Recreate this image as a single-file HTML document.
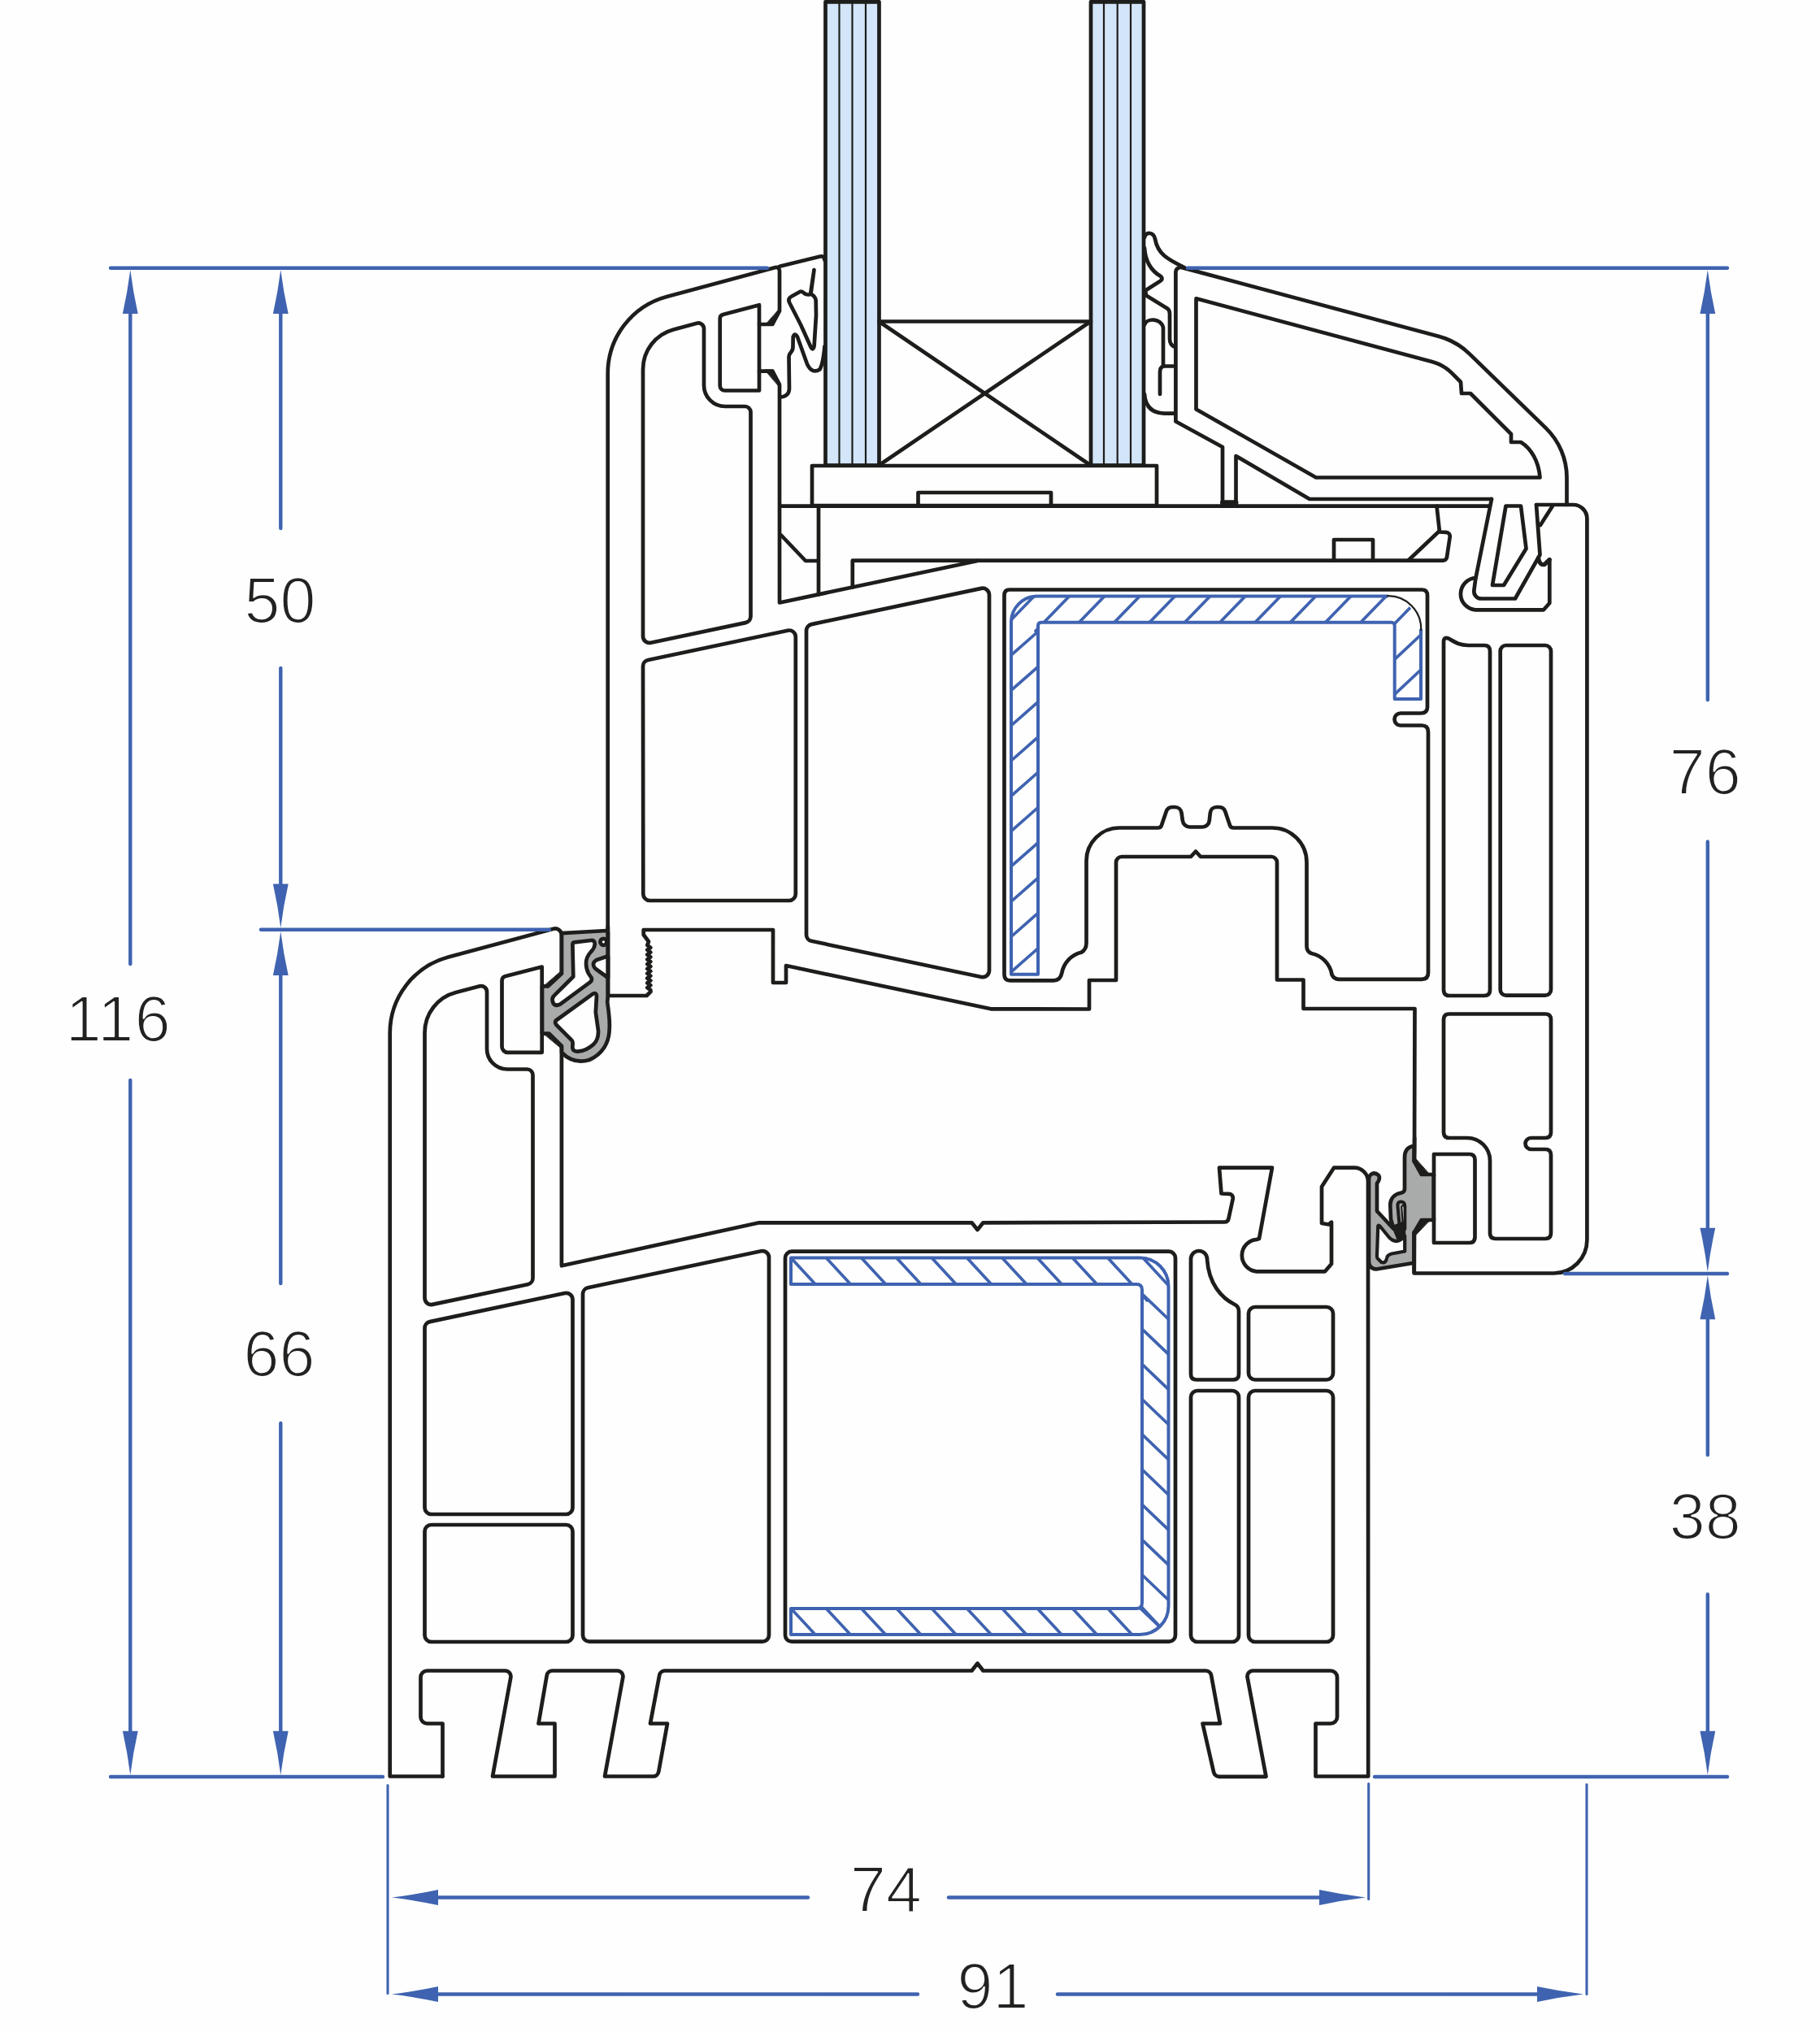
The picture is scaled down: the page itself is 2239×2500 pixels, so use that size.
<!DOCTYPE html>
<html><head><meta charset="utf-8"><title>Profile section</title>
<style>
html,body{margin:0;padding:0;background:#fff;}
body{width:2239px;height:2500px;overflow:hidden;}
svg{display:block;}
text{font-family:"Liberation Sans",sans-serif;fill:#222221;}
</style></head><body>
<svg width="2239" height="2500" viewBox="0 0 2239 2500" stroke-linejoin="round" stroke-linecap="round">
<rect x="0" y="0" width="2239" height="2500" fill="#fefefe"/>
<rect x="1015.5" y="2.3" width="66" height="570.2" fill="#d3e5f8" stroke="#1d1d1b" stroke-width="4.7"/>
<path d="M1032.5 2L1032.5 572" fill="none" stroke="#1d1d1b" stroke-width="2.2" />
<path d="M1048.5 2L1048.5 572" fill="none" stroke="#1d1d1b" stroke-width="2.2" />
<path d="M1065 2L1065 572" fill="none" stroke="#1d1d1b" stroke-width="2.2" />
<rect x="1342" y="2.3" width="65" height="570.2" fill="#d3e5f8" stroke="#1d1d1b" stroke-width="4.7"/>
<path d="M1358 2L1358 572" fill="none" stroke="#1d1d1b" stroke-width="2.2" />
<path d="M1374.7 2L1374.7 572" fill="none" stroke="#1d1d1b" stroke-width="2.2" />
<path d="M1391 2L1391 572" fill="none" stroke="#1d1d1b" stroke-width="2.2" />
<path d="M1081.5 395.5L1342 395.5" fill="none" stroke="#1d1d1b" stroke-width="4.7" />
<path d="M1082 396L1341 572" fill="none" stroke="#1d1d1b" stroke-width="4.7" />
<path d="M1341 396L1082 572" fill="none" stroke="#1d1d1b" stroke-width="4.7" />
<path d="M999 573L1423 573L1423 622L999 622Z" fill="none" stroke="#1d1d1b" stroke-width="4.7" />
<path d="M1129.5 622L1129.5 606L1293 606L1293 622" fill="none" stroke="#1d1d1b" stroke-width="4.7" />
<path d="M747.7 1225L747.7 459.6C747.7 415.2 777.5 376.4 820.3 364.9L954 329.1C956.5 328.4 959 330.3 959 333L959 382.7L950.2 399L934 399" fill="none" stroke="#1d1d1b" stroke-width="4.7" />
<path d="M959 380L959.5 384L951.5 400.5L941 400.5Z" fill="#1d1d1b" stroke="#1d1d1b" stroke-width="1" />
<path d="M934 375.2L889.4 387.1C887.2 387.7 885.7 389.7 885.7 391.9L885.7 474.5C885.7 477.8 888.4 480.5 891.7 480.5L934 480.5Z" fill="none" stroke="#1d1d1b" stroke-width="4.7" />
<path d="M934 456.6L950.2 456.6L959 473L959 741.5L1202.5 690" fill="none" stroke="#1d1d1b" stroke-width="4.7" />
<path d="M959 476L959.5 471L951.5 455L941 455Z" fill="#1d1d1b" stroke="#1d1d1b" stroke-width="1" />
<path d="M961 622.7L1832 622.7" fill="none" stroke="#1d1d1b" stroke-width="4.7" />
<path d="M1007 622.5L1007 731.3" fill="none" stroke="#1d1d1b" stroke-width="4.7" />
<path d="M961 658.5L991 690L1006 690" fill="none" stroke="#1d1d1b" stroke-width="4.7" />
<path d="M1048.8 722.5L1048.8 689.7L1775.1 689.7C1777.6 689.7 1779.7 687.9 1780 685.4L1783.7 660.5C1784.1 657.6 1781.9 654.9 1778.9 654.8L1771 654.5L1767.5 622.5" fill="none" stroke="#1d1d1b" stroke-width="4.7" />
<path d="M1732.5 689.5L1770 654" fill="none" stroke="#1d1d1b" stroke-width="4.7" />
<path d="M1641 689.7L1641 664L1689 664L1689 689.7" fill="none" stroke="#1d1d1b" stroke-width="4.7" />
<path d="M791 454.3C791 431.4 806.4 411.3 828.5 405.4L857.2 397.7C861.6 396.5 866 399.9 866 404.5L866 474C866 488.4 877.6 500 892 500L916.5 500C920.4 500 923.5 503.1 923.5 507L923.5 758.2C923.5 762 920.9 765.3 917.2 766.1L800.7 790.7C795.7 791.8 791 788 791 782.9Z" fill="none" stroke="#1d1d1b" stroke-width="4.7" />
<path d="M791 819.8C791 816 793.6 812.8 797.4 812L969.1 775.7C974.1 774.6 978.8 778.4 978.8 783.5L978.8 1100C978.8 1104.4 975.2 1108 970.8 1108L799.3 1108C794.9 1108 791.3 1104.4 791.3 1100Z" fill="none" stroke="#1d1d1b" stroke-width="4.7" />
<path d="M992 776C992 772.2 994.6 768.9 998.3 768.1L1207.3 723.9C1212.3 722.9 1217 726.7 1217 731.8L1217 1194.1C1217 1199.2 1212.3 1203 1207.3 1202L998.3 1157.8C994.6 1157 992 1153.7 992 1149.9Z" fill="none" stroke="#1d1d1b" stroke-width="4.7" />
<path d="M747.7 1225L795.5 1225L800.5 1220L800.3 1218L796.3 1215.1L800.3 1212.2L796.3 1209.3L800.3 1206.4L796.3 1203.5L800.3 1200.6L796.3 1197.7L800.3 1194.8L796.3 1191.9L800.3 1189L796.3 1186.1L800.3 1183.2L796.3 1180.3L800.3 1177.4L796.3 1174.5L800.3 1171.6L796.3 1168.7L800.3 1165.8L796.3 1162.9L798 1158.5L791.7 1150L791.7 1144L951 1144L951 1209L967 1209L967 1188L1219 1241.3L1340 1241.5L1340 1206L1373 1206L1373 1061C1373 1057.1 1376.1 1054 1380 1054L1465 1054L1471 1047.5L1477 1054L1564 1054C1567.9 1054 1571 1057.1 1571 1061L1571 1205.5L1603.5 1205.5L1603.5 1241L1740.5 1241L1740 1427L1750 1444.5L1764 1446" fill="none" stroke="#1d1d1b" stroke-width="4.7" />
<path d="M1740 1424L1740.5 1430L1751 1446.5L1760 1446.5Z" fill="#1d1d1b" stroke="#1d1d1b" stroke-width="1" />
<path d="M1764 1500L1750 1502L1740 1517.5L1739.8 1566.5L1911.4 1566.5C1934 1566.5 1952.4 1548.1 1952.4 1525.5L1952.4 638C1952.4 628.6 1944.8 621 1935.4 621L1890 621" fill="none" stroke="#1d1d1b" stroke-width="4.7" />
<path d="M1740 1521L1740.5 1515L1751 1500L1760 1500Z" fill="#1d1d1b" stroke="#1d1d1b" stroke-width="1" />
<path d="M1910 622.5L1895 646" fill="none" stroke="#1d1d1b" stroke-width="4.7" />
<path d="M1242 725.5L1749 725.5Q1756 725.5 1756 732.5L1756 870Q1756 877.5 1748 877.5L1723 877.5A7.5 7.5 0 0 0 1723 892.5L1749 892.5Q1757 892.5 1757 900.5L1757 1197Q1757 1204.8 1749 1204.8L1647 1204.8Q1641 1204.8 1638.5 1199A32 32 0 0 0 1613.5 1173Q1607.5 1171 1607.5 1164L1607.5 1061A42.5 42.5 0 0 0 1565 1018.5L1565 1018.5L1517.6 1018.5C1515.5 1018.5 1513.5 1017.1 1512.9 1015.1L1507.3 998.5C1506.2 995.2 1503.2 993 1499.7 993L1496.7 993C1492.6 993 1489.2 996.1 1488.8 1000.2L1487.8 1009.4C1487.4 1014 1483.5 1017.5 1478.9 1017.5L1463.8 1017.5C1459.3 1017.5 1455.5 1014.2 1454.9 1009.8L1453.5 999.9C1452.9 995.9 1449.5 993 1445.6 993L1442.3 993C1438.8 993 1435.8 995.2 1434.7 998.5L1429.1 1015.1C1428.5 1017.1 1426.5 1018.5 1424.4 1018.5L1377 1018.5A40.5 40.5 0 0 0 1336.5 1059L1336.5 1160Q1336.5 1168.5 1330 1171.8A32 32 0 0 0 1306.3 1197Q1304.5 1206.3 1296 1206.3L1242.5 1206.3Q1235.5 1206.3 1235.5 1199L1235.5 732.5Q1235.5 725.5 1242 725.5Z" fill="none" stroke="#1d1d1b" stroke-width="4.7" />
<path d="M1815.5 711A19.7 19.7 0 0 0 1815 750.3L1899 750.3L1906.3 742L1906.3 688.5" fill="none" stroke="#1d1d1b" stroke-width="4.7" />
<path d="M1892.5 686.5Q1894 696 1900 694.5L1906.3 688.5" fill="none" stroke="#1d1d1b" stroke-width="5.2" />
<path d="M1776 1218Q1776 1225 1783 1225L1826 1225Q1833 1225 1833 1218L1833 801Q1833 794 1826 794L1806 794C1795 794 1790 790 1782 785.5Q1776 783 1776 790Z" fill="none" stroke="#1d1d1b" stroke-width="4.7" />
<path d="M1845.7 801C1845.7 797.1 1848.8 794 1852.7 794L1901 794C1904.9 794 1908 797.1 1908 801L1908 1217.7C1908 1221.6 1904.9 1224.7 1901 1224.7L1852.7 1224.7C1848.8 1224.7 1845.7 1221.6 1845.7 1217.7Z" fill="none" stroke="#1d1d1b" stroke-width="4.7" />
<path d="M1783 1247.5L1901 1247.5Q1908 1247.5 1908 1254.5L1908 1393Q1908 1400 1901 1400L1883.5 1400A7 7 0 0 0 1883.5 1414L1901 1414Q1908 1414 1908 1421L1908 1517Q1908 1524 1901 1524L1840 1524Q1833 1524 1833 1517L1833 1428A28 28 0 0 0 1805 1400L1783 1400Q1776 1400 1776 1393L1776 1254.5Q1776 1247.5 1783 1247.5Z" fill="none" stroke="#1d1d1b" stroke-width="4.7" />
<path d="M1764 1420L1807.5 1420Q1814.5 1420 1814.5 1427L1814.5 1522Q1814.5 1529 1807.5 1529L1764 1529Z" fill="none" stroke="#1d1d1b" stroke-width="4.7" />
<path d="M1504 620.5L1504 550L1446.4 518.5L1446.4 334.9C1446.4 331 1450.1 328.1 1454 329.1L1769.7 413.7C1784.1 417.6 1797.2 425 1807.8 435.4L1901.7 526.6C1918.2 542.6 1927.5 564.6 1927.5 587.5L1927.5 621" fill="none" stroke="#1d1d1b" stroke-width="4.7" />
<path d="M1520.5 620.5L1520.5 561L1611 614L1835 614" fill="none" stroke="#1d1d1b" stroke-width="4.7" />
<path d="M1504 618.3L1520.5 618.3" fill="none" stroke="#1d1d1b" stroke-width="6" />
<path d="M1471.5 367.3L1761.6 445C1770.9 447.5 1779.4 452.4 1786.2 459.2L1797 470L1798 484L1809 484L1859 534L1859 544L1871 544C1884 552 1893 568 1894.5 587.5L1619 587.5L1471.5 503.5Z" fill="none" stroke="#1d1d1b" stroke-width="4.7" />
<path d="M1835 614L1815.3 712L1813.4 726.3C1812.6 731.7 1816.8 736.5 1822.3 736.5L1864 736.5L1894.5 682.5L1890 621" fill="none" stroke="#1d1d1b" stroke-width="4.7" />
<path d="M1852.5 622.5L1871 622.5L1877.5 675L1850 720L1836 720Z" fill="none" stroke="#1d1d1b" stroke-width="4.7" />
<path d="M1408 292C1410 285 1419 285 1421 294C1424 312 1436 319 1457 329" fill="none" stroke="#1d1d1b" stroke-width="4.7" />
<path d="M1408 305C1409 322 1416 333 1428 340Q1431.5 343.5 1427 346L1409 357.5L1410 363.5L1436 379.5Q1439 381.5 1439 386L1439 417Q1439 425 1446 427" fill="none" stroke="#1d1d1b" stroke-width="4.7" />
<path d="M1408 399.5C1411 391 1428 391 1431 403L1431 450.5L1446 450.5" fill="none" stroke="#1d1d1b" stroke-width="4.7" />
<path d="M1431 450.5Q1427 452 1427 458L1427 485" fill="none" stroke="#1d1d1b" stroke-width="4.7" stroke-linecap="round"/>
<path d="M1408 485C1409 499 1416 508 1432 508.7L1446 508.7" fill="none" stroke="#1d1d1b" stroke-width="4.7" />
<path d="M959 327.7L1009 315.5Q1014 314.5 1014.5 320" fill="none" stroke="#1d1d1b" stroke-width="4.7" />
<path d="M971 372Q969 367 974 364.5L984 359Q986.5 358 989 360.5Q992 363.5 997 362L1001.5 332L997.5 361.5Q1003.5 365 1003.7 370L1004 388L1001.6 426Q1000 432 997.5 427L985.3 400Z" fill="none" stroke="#1d1d1b" stroke-width="4.7" />
<path d="M959.5 488.5Q970.5 488 971 478.5L970.5 439Q970.5 436 973 433.5Q975.8 430.5 975.5 426L975.7 414.5Q977.5 408.5 981 414.5L993 448Q999 460.5 1008.5 454.5Q1012.5 448 1014.5 426" fill="none" stroke="#1d1d1b" stroke-width="4.7" />
<path d="M544.5 2185.5L479.7 2185.5L479.7 1271.1C479.7 1227.2 509.2 1188.8 551.5 1177.4L680.8 1142.7C685.9 1141.3 690.9 1145.2 690.9 1150.4L690.9 1197.7L674 1213.5L667 1213.5" fill="none" stroke="#1d1d1b" stroke-width="4.7" />
<path d="M690.9 1194.5L691.5 1199L675.5 1215.5L666.5 1215.5Z" fill="#1d1d1b" stroke="#1d1d1b" stroke-width="1" />
<path d="M666.7 1189.5L622 1201.1C619.3 1201.8 617.5 1204.2 617.5 1206.9L617.5 1287.8C617.5 1291.7 620.6 1294.8 624.5 1294.8L666.7 1294.8Z" fill="none" stroke="#1d1d1b" stroke-width="4.7" />
<path d="M667 1271.6L675.5 1271.6L690.9 1287L690.9 1557.3L934 1504.3L1195.5 1504.3L1202.5 1513L1209.5 1504.3L1506.5 1503.5C1508.8 1503.5 1510.9 1501.9 1511.4 1499.6L1516.7 1474.9C1517.4 1471.8 1515.1 1468.9 1512 1468.8L1502.5 1468.5L1500 1436.7L1565 1436.7L1549 1524L1546.5 1524.8A19.8 19.8 0 0 0 1546 1564.3L1546 1564.3L1630 1564.3L1638 1555L1638 1503.5L1634.5 1506.5L1626 1505L1626 1460L1641 1436.7L1666 1436.7C1675.4 1436.7 1683 1444.3 1683 1453.7L1683.2 2185.5L1618.5 2185.5L1618.5 2120.5L1637 2120.5C1641.4 2120.5 1645 2116.9 1645 2112.5L1645 2063.5C1645 2059.1 1641.4 2055.5 1637 2055.5L1541.4 2055.5C1537.1 2055.5 1533.7 2059.5 1534.6 2063.8L1557.5 2185.8L1499.9 2185.8C1496.6 2185.8 1493.8 2183.5 1493.1 2180.3L1479.5 2120.5L1501 2120.5L1490.1 2061.2C1489.4 2057.9 1486.5 2055.5 1483.2 2055.5L1209.5 2055.5L1202.5 2046.5L1195.5 2055.5L818.1 2055.5C814.7 2055.5 811.8 2057.9 811.2 2061.2L800 2120.5L821 2120.5L810.3 2179.7C809.7 2183.1 806.8 2185.5 803.4 2185.5L744 2185.5L766.3 2063.8C767.1 2059.5 763.8 2055.5 759.4 2055.5L679.6 2055.5C676.2 2055.5 673.3 2058 672.7 2061.3L662.5 2120.5L682.5 2120.5L682.5 2185.5L606 2185.5L628.3 2063.8C629.1 2059.5 625.8 2055.5 621.4 2055.5L525.5 2055.5C521.1 2055.5 517.5 2059.1 517.5 2063.5L517.5 2112.5C517.5 2116.9 521.1 2120.5 525.5 2120.5L544.5 2120.5L544.5 2185.5" fill="none" stroke="#1d1d1b" stroke-width="4.7" />
<path d="M690.9 1290L691.5 1285L677 1269.7L666.5 1269.7Z" fill="#1d1d1b" stroke="#1d1d1b" stroke-width="1" />
<path d="M522.5 1270.5C522.5 1247.2 538.2 1226.9 560.8 1221L590.2 1213.3C594.7 1212.1 599 1215.5 599 1220.1L599 1290.5C599 1304.3 610.2 1315.5 624 1315.5L648.5 1315.5C652.4 1315.5 655.5 1318.6 655.5 1322.5L655.5 1572.4C655.5 1576.1 652.9 1579.4 649.2 1580.2L532.2 1604.9C527.2 1606 522.5 1602.2 522.5 1597.1Z" fill="none" stroke="#1d1d1b" stroke-width="4.7" />
<path d="M522.5 1633.9C522.5 1630.1 525.1 1626.9 528.8 1626.1L694.8 1591C699.8 1589.9 704.5 1593.7 704.5 1598.8L704.5 1855C704.5 1859.4 700.9 1863 696.5 1863L530.5 1863C526.1 1863 522.5 1859.4 522.5 1855Z" fill="none" stroke="#1d1d1b" stroke-width="4.7" />
<path d="M522.5 1884C522.5 1879.6 526.1 1876 530.5 1876L696.5 1876C700.9 1876 704.5 1879.6 704.5 1884L704.5 2012C704.5 2016.4 700.9 2020 696.5 2020L530.5 2020C526.1 2020 522.5 2016.4 522.5 2012Z" fill="none" stroke="#1d1d1b" stroke-width="4.7" />
<path d="M717 1592.1C717 1588.4 719.6 1585.1 723.3 1584.3L936.3 1539.3C941.3 1538.2 946 1542 946 1547.1L946 2011.7C946 2016.1 942.4 2019.7 938 2019.7L725 2019.7C720.6 2019.7 717 2016.1 717 2011.7Z" fill="none" stroke="#1d1d1b" stroke-width="4.7" />
<path d="M966 1547.7C966 1543.3 969.6 1539.7 974 1539.7L1438 1539.7C1442.4 1539.7 1446 1543.3 1446 1547.7L1446 2011.7C1446 2016.1 1442.4 2019.7 1438 2019.7L974 2019.7C969.6 2019.7 966 2016.1 966 2011.7Z" fill="none" stroke="#1d1d1b" stroke-width="4.7" />
<path d="M1465 1690.5L1465 1549A10 10 0 0 1 1485 1549C1487 1580 1503 1597 1519 1605Q1524 1607.5 1524 1613L1524 1690.5Q1524 1697.5 1517 1697.5L1472 1697.5Q1465 1697.5 1465 1690.5Z" fill="none" stroke="#1d1d1b" stroke-width="4.7" />
<path d="M1536 1616C1536 1611.6 1539.6 1608 1544 1608L1632 1608C1636.4 1608 1640 1611.6 1640 1616L1640 1689.5C1640 1693.9 1636.4 1697.5 1632 1697.5L1544 1697.5C1539.6 1697.5 1536 1693.9 1536 1689.5Z" fill="none" stroke="#1d1d1b" stroke-width="4.7" />
<path d="M1465 1719C1465 1714.6 1468.6 1711 1473 1711L1516 1711C1520.4 1711 1524 1714.6 1524 1719L1524 2012C1524 2016.4 1520.4 2020 1516 2020L1473 2020C1468.6 2020 1465 2016.4 1465 2012Z" fill="none" stroke="#1d1d1b" stroke-width="4.7" />
<path d="M1536 1719C1536 1714.6 1539.6 1711 1544 1711L1632 1711C1636.4 1711 1640 1714.6 1640 1719L1640 2012C1640 2016.4 1636.4 2020 1632 2020L1544 2020C1539.6 2020 1536 2016.4 1536 2012Z" fill="none" stroke="#1d1d1b" stroke-width="4.7" />
<defs>
<clipPath id="cs"><path d="M1244 1198.7L1244 765.5A32 32 0 0 1 1276 733.5L1708 733.5A40 40 0 0 1 1748 773.5L1748 860L1715.7 860L1715.7 769.7Q1715.7 765.7 1711.7 765.7L1281 765.7Q1277 765.7 1277 769.7L1277 1198.7Z"/></clipPath>
<clipPath id="cf"><path d="M973 1547.5L1402.5 1547.5A35 35 0 0 1 1437.5 1582.5L1437.5 1976A35 35 0 0 1 1402.5 2011L973 2011L973 1979L1398 1979Q1405 1979 1405 1972L1405 1587Q1405 1580 1398 1580L973 1580Z"/></clipPath>
</defs>
<g clip-path="url(#cs)" stroke="#3f63b0" stroke-width="3.7" fill="none">
<path d="M1230.7 776.3L1281.7 723.7"/>
<path d="M1274 776.3L1325 723.7"/>
<path d="M1317.3 776.3L1368.3 723.7"/>
<path d="M1360.6 776.3L1411.6 723.7"/>
<path d="M1403.9 776.3L1454.9 723.7"/>
<path d="M1447.2 776.3L1498.2 723.7"/>
<path d="M1490.5 776.3L1541.5 723.7"/>
<path d="M1533.8 776.3L1584.8 723.7"/>
<path d="M1577.1 776.3L1628.1 723.7"/>
<path d="M1620.4 776.3L1671.4 723.7"/>
<path d="M1663.7 776.3L1714.7 723.7"/>
<path d="M1707 776.3L1758 723.7"/>
<path d="M1234 814.8L1287 768.2"/>
<path d="M1234 858.1L1287 811.5"/>
<path d="M1234 901.4L1287 854.8"/>
<path d="M1234 944.7L1287 898.1"/>
<path d="M1234 988L1287 941.4"/>
<path d="M1234 1031.3L1287 984.7"/>
<path d="M1234 1074.6L1287 1028"/>
<path d="M1234 1117.9L1287 1071.3"/>
<path d="M1234 1161.2L1287 1114.6"/>
<path d="M1234 1204.5L1287 1157.9"/>
<path d="M1234 1247.8L1287 1201.2"/>
<path d="M1706 820.4L1759 770.6"/>
<path d="M1706 863.4L1759 813.6"/>
</g>
<path d="M1244 1198.7L1244 765.5A32 32 0 0 1 1276 733.5L1708 733.5A40 40 0 0 1 1748 773.5L1748 860L1715.7 860L1715.7 769.7Q1715.7 765.7 1711.7 765.7L1281 765.7Q1277 765.7 1277 769.7L1277 1198.7Z" fill="none" stroke="#3f63b0" stroke-width="4" />
<path d="M1709.5 733.5A40 40 0 0 1 1748 772" fill="none" stroke="#fefefe" stroke-width="5" />
<path d="M1707 733.2A40.5 40.5 0 0 1 1748.2 775" fill="none" stroke="#1d1d1b" stroke-width="2.2" />
<g clip-path="url(#cf)" stroke="#3f63b0" stroke-width="3.7" fill="none">
<path d="M963.8 1537.5L1021.5 1600"/>
<path d="M963.8 1969L1021.5 2031"/>
<path d="M1007.1 1537.5L1064.8 1600"/>
<path d="M1007.1 1969L1064.8 2031"/>
<path d="M1050.4 1537.5L1108.1 1600"/>
<path d="M1050.4 1969L1108.1 2031"/>
<path d="M1093.7 1537.5L1151.4 1600"/>
<path d="M1093.7 1969L1151.4 2031"/>
<path d="M1137 1537.5L1194.7 1600"/>
<path d="M1137 1969L1194.7 2031"/>
<path d="M1180.3 1537.5L1238 1600"/>
<path d="M1180.3 1969L1238 2031"/>
<path d="M1223.6 1537.5L1281.3 1600"/>
<path d="M1223.6 1969L1281.3 2031"/>
<path d="M1266.9 1537.5L1324.6 1600"/>
<path d="M1266.9 1969L1324.6 2031"/>
<path d="M1310.2 1537.5L1367.9 1600"/>
<path d="M1310.2 1969L1367.9 2031"/>
<path d="M1353.5 1537.5L1411.2 1600"/>
<path d="M1353.5 1969L1411.2 2031"/>
<path d="M1396.8 1537.5L1454.5 1600"/>
<path d="M1396.8 1969L1454.5 2031"/>
<path d="M1395 1582.4L1448 1633"/>
<path d="M1395 1625.6L1448 1676.2"/>
<path d="M1395 1668.8L1448 1719.4"/>
<path d="M1395 1712L1448 1762.6"/>
<path d="M1395 1755.2L1448 1805.8"/>
<path d="M1395 1798.4L1448 1849"/>
<path d="M1395 1841.6L1448 1892.2"/>
<path d="M1395 1884.8L1448 1935.4"/>
<path d="M1395 1928L1448 1978.6"/>
<path d="M1395 1971.2L1448 2021.8"/>
</g>
<path d="M973 1547.5L1402.5 1547.5A35 35 0 0 1 1437.5 1582.5L1437.5 1976A35 35 0 0 1 1402.5 2011L973 2011L973 1979L1398 1979Q1405 1979 1405 1972L1405 1587Q1405 1580 1398 1580L973 1580Z" fill="none" stroke="#3f63b0" stroke-width="4" />
<path d="M691 1148.2L746 1145L747.9 1147L747.9 1224L747.2 1233C749 1245 750.5 1256 749.7 1266C749.5 1283 741 1297 725 1304C712 1308 700 1304 691 1295L691 1287L675.5 1271.6L667 1271.6L667 1213.5L674 1213.5L691 1197.7Z" fill="#a9abaa" stroke="#1d1d1b" stroke-width="4.7" />
<path d="M706.5 1159.3L726.6 1157Q732 1156.5 731.8 1161.5Q731.5 1166.5 727 1171Q721 1177.5 721 1185Q721 1192 724 1197.7L727.8 1203.3Q728.5 1206.5 726 1208.3L689 1235.7Q683 1238.5 680.5 1234L679.6 1231Q679 1227.5 681.5 1225.2L705.3 1201.5L704.4 1162Q704.4 1159.5 706.5 1159.3Z" fill="#fefefe" stroke="#1d1d1b" stroke-width="4.7" />
<path d="M684 1255.5L729.5 1222.6Q733.5 1221 734 1225L732.8 1245.3L736 1268Q736.5 1279 730 1285Q722 1292.5 711 1293.7Q705.5 1294 704.3 1289.5L704.6 1283Q704.6 1281 703 1279.5L684.5 1261Q682 1258 684 1255.5Z" fill="#fefefe" stroke="#1d1d1b" stroke-width="4.7" />
<circle cx="742.4" cy="1158.8" r="4" fill="#fefefe" stroke="#1d1d1b" stroke-width="4.7"/>
<path d="M748 1176.3L734 1181Q729.5 1183.5 730 1187Q730.5 1190.5 733.5 1192.5L748 1203Z" fill="#fefefe" stroke="#1d1d1b" stroke-width="4.7" />
<path d="M747.9 1140L747.9 1225" fill="none" stroke="#1d1d1b" stroke-width="4.7" />
<path d="M1739.8 1410C1734 1410 1728 1414 1728 1424L1728 1463Q1728 1466.5 1724 1467.5C1716 1469 1710.5 1474 1710.3 1482L1711 1500L1714.5 1512L1694 1490L1694 1456Q1698.5 1450 1696 1446Q1691 1441.5 1686.5 1445Q1684 1447 1684 1451L1684 1552Q1684 1560.5 1693 1561.5L1739.6 1553.7L1739.6 1516.4L1748.8 1501L1763.6 1501L1763.6 1445L1748.8 1445L1739.6 1428.5Z" fill="#a9abaa" stroke="#1d1d1b" stroke-width="4.7" />
<path d="M1719.5 1484Q1719 1478 1724 1478.5Q1728.3 1479 1728.3 1484L1728.3 1512L1722 1512Z" fill="#a9abaa" stroke="#1d1d1b" stroke-width="4" />
<path d="M1724.3 1485Q1726 1480.5 1727.6 1485L1727.8 1508L1725.8 1508Z" fill="#fefefe" stroke="#1d1d1b" stroke-width="2.2" />
<path d="M1713 1509L1728 1503L1728.3 1521L1719 1524Z" fill="#1d1d1b" stroke="#1d1d1b" stroke-width="2" />
<path d="M1695.2 1509.5Q1695.2 1506 1698 1509L1709 1522.5Q1716.5 1530 1723.5 1525L1728.2 1520.5L1728.2 1539.5L1712 1542.5Q1706.5 1544 1706 1548Q1705 1554.5 1699.5 1553L1694.5 1548Q1694 1547 1694 1545Z" fill="#fefefe" stroke="#1d1d1b" stroke-width="4.2" />
<path d="M1740.2 1400L1739.8 1429" fill="none" stroke="#1d1d1b" stroke-width="4.7" />
<path d="M1739.6 1516L1739.6 1566" fill="none" stroke="#1d1d1b" stroke-width="4.7" />
<path d="M136 329.7L944 329.7" stroke="#3f63b0" stroke-width="4.4" stroke-linecap="round" fill="none"/>
<path d="M1461 329.7L2125 329.7" stroke="#3f63b0" stroke-width="4.4" stroke-linecap="round" fill="none"/>
<path d="M321 1143.8L676 1143.8" stroke="#3f63b0" stroke-width="4.4" stroke-linecap="round" fill="none"/>
<path d="M1925 1567L2125 1567" stroke="#3f63b0" stroke-width="4.4" stroke-linecap="round" fill="none"/>
<path d="M136 2186L471 2186" stroke="#3f63b0" stroke-width="4.4" stroke-linecap="round" fill="none"/>
<path d="M1691 2186L2125 2186" stroke="#3f63b0" stroke-width="4.4" stroke-linecap="round" fill="none"/>
<path d="M160.3 380L160.3 1186" stroke="#3f63b0" stroke-width="4.4" stroke-linecap="round" fill="none"/>
<path d="M160.3 1329L160.3 2135" stroke="#3f63b0" stroke-width="4.4" stroke-linecap="round" fill="none"/>
<path d="M345.3 380L345.3 650" stroke="#3f63b0" stroke-width="4.4" stroke-linecap="round" fill="none"/>
<path d="M345.3 822L345.3 1092" stroke="#3f63b0" stroke-width="4.4" stroke-linecap="round" fill="none"/>
<path d="M345.3 1195L345.3 1579" stroke="#3f63b0" stroke-width="4.4" stroke-linecap="round" fill="none"/>
<path d="M345.3 1751L345.3 2135" stroke="#3f63b0" stroke-width="4.4" stroke-linecap="round" fill="none"/>
<path d="M2100.8 380L2100.8 861" stroke="#3f63b0" stroke-width="4.4" stroke-linecap="round" fill="none"/>
<path d="M2100.8 1035.5L2100.8 1515" stroke="#3f63b0" stroke-width="4.4" stroke-linecap="round" fill="none"/>
<path d="M2100.8 1618L2100.8 1790" stroke="#3f63b0" stroke-width="4.4" stroke-linecap="round" fill="none"/>
<path d="M2100.8 1961.5L2100.8 2135" stroke="#3f63b0" stroke-width="4.4" stroke-linecap="round" fill="none"/>
<path d="M477 2196.5L477 2452.5" stroke="#3f63b0" stroke-width="3.1" stroke-linecap="round" fill="none"/>
<path d="M1683.7 2194.5L1683.7 2336.5" stroke="#3f63b0" stroke-width="3.1" stroke-linecap="round" fill="none"/>
<path d="M1952 2195.5L1952 2453.5" stroke="#3f63b0" stroke-width="3.1" stroke-linecap="round" fill="none"/>
<path d="M535 2334.5L994 2334.5" stroke="#3f63b0" stroke-width="4.4" stroke-linecap="round" fill="none"/>
<path d="M1167 2334.5L1628 2334.5" stroke="#3f63b0" stroke-width="4.4" stroke-linecap="round" fill="none"/>
<path d="M535 2453.5L1129 2453.5" stroke="#3f63b0" stroke-width="4.4" stroke-linecap="round" fill="none"/>
<path d="M1301 2453.5L1896 2453.5" stroke="#3f63b0" stroke-width="4.4" stroke-linecap="round" fill="none"/>
<path d="M160.3 332Q163.7 359 169.7 386L150.9 386Q156.9 359 160.3 332Z" fill="#3f63b0" stroke="none"/>
<path d="M345.3 332Q348.7 359 354.7 386L335.9 386Q341.9 359 345.3 332Z" fill="#3f63b0" stroke="none"/>
<path d="M2100.8 332Q2104.2 359 2110.2 386L2091.4 386Q2097.4 359 2100.8 332Z" fill="#3f63b0" stroke="none"/>
<path d="M345.3 1141.5Q341.9 1114.5 335.9 1087.5L354.7 1087.5Q348.7 1114.5 345.3 1141.5Z" fill="#3f63b0" stroke="none"/>
<path d="M345.3 1146Q348.7 1173 354.7 1200L335.9 1200Q341.9 1173 345.3 1146Z" fill="#3f63b0" stroke="none"/>
<path d="M2100.8 1564.7Q2097.4 1537.7 2091.4 1510.7L2110.2 1510.7Q2104.2 1537.7 2100.8 1564.7Z" fill="#3f63b0" stroke="none"/>
<path d="M2100.8 1569.3Q2104.2 1596.3 2110.2 1623.3L2091.4 1623.3Q2097.4 1596.3 2100.8 1569.3Z" fill="#3f63b0" stroke="none"/>
<path d="M160.3 2183.8Q156.9 2156.8 150.9 2129.8L169.7 2129.8Q163.7 2156.8 160.3 2183.8Z" fill="#3f63b0" stroke="none"/>
<path d="M345.3 2183.8Q341.9 2156.8 335.9 2129.8L354.7 2129.8Q348.7 2156.8 345.3 2183.8Z" fill="#3f63b0" stroke="none"/>
<path d="M2100.8 2183.8Q2097.4 2156.8 2091.4 2129.8L2110.2 2129.8Q2104.2 2156.8 2100.8 2183.8Z" fill="#3f63b0" stroke="none"/>
<path d="M482 2334.5Q510.5 2331.1 539 2325.1L539 2343.9Q510.5 2337.9 482 2334.5Z" fill="#3f63b0" stroke="none"/>
<path d="M1680 2334.5Q1651.5 2337.9 1623 2343.9L1623 2325.1Q1651.5 2331.1 1680 2334.5Z" fill="#3f63b0" stroke="none"/>
<path d="M482 2453.5Q510.5 2450.1 539 2444.1L539 2462.9Q510.5 2456.9 482 2453.5Z" fill="#3f63b0" stroke="none"/>
<path d="M1948 2453.5Q1919.5 2456.9 1891 2462.9L1891 2444.1Q1919.5 2450.1 1948 2453.5Z" fill="#3f63b0" stroke="none"/>
<text x="344.5" y="766" font-size="79" text-anchor="middle" stroke="#fefefe" stroke-width="2" letter-spacing="0">50</text>
<text x="146" y="1281" font-size="79" text-anchor="middle" stroke="#fefefe" stroke-width="2" letter-spacing="1.5">116</text>
<text x="343.5" y="1693" font-size="79" text-anchor="middle" stroke="#fefefe" stroke-width="2" letter-spacing="0">66</text>
<text x="2097.7" y="977" font-size="79" text-anchor="middle" stroke="#fefefe" stroke-width="2" letter-spacing="0">76</text>
<text x="2097.7" y="1893" font-size="79" text-anchor="middle" stroke="#fefefe" stroke-width="2" letter-spacing="0">38</text>
<text x="1090" y="2351.5" font-size="79" text-anchor="middle" stroke="#fefefe" stroke-width="2" letter-spacing="0">74</text>
<text x="1221.5" y="2471" font-size="79" text-anchor="middle" stroke="#fefefe" stroke-width="2" letter-spacing="0">91</text>
</svg>
</body></html>
